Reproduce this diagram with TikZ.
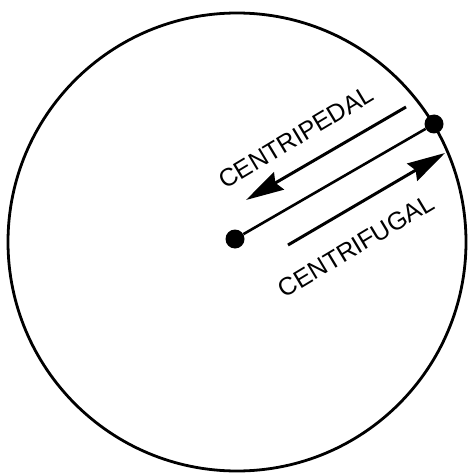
\documentclass[tikz,border=0pt]{standalone}
\usepackage{fontspec}
\setmainfont{Liberation Sans}
\usetikzlibrary{arrows.meta}
\begin{document}
\begin{tikzpicture}[x=1pt,y=-1pt,
  edge/.style={line width=2.6pt},
  dot/.style={circle,fill=black,inner sep=0pt,minimum size=19pt},
  force/.style={line width=3pt,-{Stealth[length=38pt,width=20pt,inset=4pt]}},
  lbl/.style={font=\fontsize{25}{25}\selectfont,rotate=31,inner sep=0pt}]
\useasboundingbox (0,0) rectangle (470,473);
\node[draw,circle,line width=2.8pt,minimum size=458pt,inner sep=0pt] (ring) at (237,242) {};
\node[dot] (c) at (235,239) {};
\node[dot] (p) at (434,124) {};
\draw[edge] (c) -- (p);
\coordinate (a1s) at (406,107);
\coordinate (a1e) at (246,200);
\coordinate (a2s) at (288,245);
\coordinate (a2e) at (445,153);
\draw[force] (a1s) -- (a1e);
\draw[force] (a2s) -- (a2e);
\node[lbl] (tp) at (296,137) {CENTRIPEDAL};
\node[lbl] (tf) at (356,246) {CENTRIFUGAL};
\end{tikzpicture}
\end{document}
